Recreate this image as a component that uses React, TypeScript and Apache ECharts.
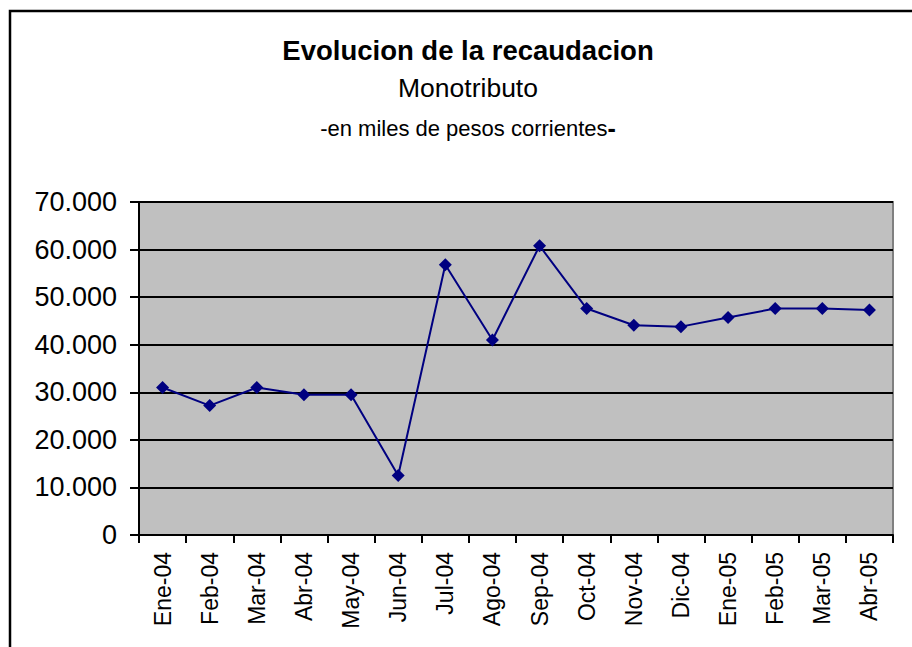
import React, { useEffect, useRef } from "react";
import * as echarts from "echarts";

const categories = [
  "Ene-04", "Feb-04", "Mar-04", "Abr-04", "May-04", "Jun-04", "Jul-04", "Ago-04",
  "Sep-04", "Oct-04", "Nov-04", "Dic-04", "Ene-05", "Feb-05", "Mar-05", "Abr-05",
];
const recaudacion = [
  31000, 27200, 31000, 29500, 29500, 12500, 56800, 41000,
  60800, 47600, 44100, 43800, 45700, 47600, 47600, 47300,
];
const titleText = "Evolucion de la recaudacion";
const subtitleText = "Monotributo";
const noteText = "-en miles de pesos corrientes";

const FONT = "'Liberation Sans', Arial, sans-serif";

function fmt(v: number): string {
  return String(v).replace(/\B(?=(\d{3})+(?!\d))/g, ".");
}

export default function App() {
  const ref = useRef<HTMLDivElement>(null);
  useEffect(() => {
    document.body.style.margin = "0";
    const chart = echarts.init(ref.current!, null, { renderer: "svg" });
    chart.setOption({
      animation: false,
      backgroundColor: "#ffffff",
      textStyle: { fontFamily: FONT },
      graphic: [
        {
          type: "rect",
          shape: { x: 10, y: 11, width: 1000, height: 1000 },
          style: { fill: "none", stroke: "#000", lineWidth: 2.5 },
          silent: true,
        },
        {
          type: "text",
          x: 468,
          y: 50,
          style: {
            text: titleText,
            fontFamily: FONT,
            fontSize: 27.5,
            fontWeight: "bold",
            fill: "#000",
            align: "center",
            verticalAlign: "middle",
          },
        },
        {
          type: "text",
          x: 468,
          y: 88,
          style: {
            text: subtitleText,
            fontFamily: FONT,
            fontSize: 26.5,
            fill: "#000",
            align: "center",
            verticalAlign: "middle",
          },
        },
        {
          type: "text",
          x: 468,
          y: 128,
          style: {
            text: "{a|" + noteText + "}{b|-}",
            fontFamily: FONT,
            fill: "#000",
            align: "center",
            verticalAlign: "middle",
            rich: {
              a: { fontFamily: FONT, fontSize: 22, fill: "#000" },
              b: { fontFamily: FONT, fontSize: 25, fontWeight: "bold", fill: "#000" },
            },
          },
        },
      ],
      grid: {
        left: 139,
        right: 19,
        top: 202,
        bottom: 112,
        containLabel: false,
        outerBoundsMode: "none",
        show: true,
        backgroundColor: "#C0C0C0",
        borderColor: "#808080",
        borderWidth: 2,
      },
      xAxis: {
        type: "category",
        data: categories,
        boundaryGap: true,
        axisLine: { show: true, lineStyle: { color: "#000", width: 2 } },
        axisTick: { show: true, length: 8, alignWithLabel: false, lineStyle: { color: "#000", width: 2 } },
        axisLabel: {
          interval: 0,
          rotate: 90,
          margin: 17,
          fontSize: 23,
          color: "#000",
          fontFamily: FONT,
        },
        splitLine: { show: false },
      },
      yAxis: {
        type: "value",
        min: 0,
        max: 70000,
        interval: 10000,
        axisLine: { show: true, lineStyle: { color: "#000", width: 2 } },
        axisTick: { show: true, length: 9, lineStyle: { color: "#000", width: 2 } },
        axisLabel: {
          margin: 22,
          fontSize: 27,
          color: "#000",
          fontFamily: FONT,
          formatter: (v: number) => fmt(v),
        },
        splitLine: { show: true, lineStyle: { color: "#000", width: 2 } },
      },
      series: [
        {
          type: "line",
          data: recaudacion,
          symbol: "diamond",
          symbolSize: 13,
          lineStyle: { color: "#000080", width: 2 },
          itemStyle: { color: "#000080" },
          z: 5,
        },
      ],
    });
    return () => chart.dispose();
  }, []);
  return <div ref={ref} style={{ width: 912, height: 647 }} />;
}
